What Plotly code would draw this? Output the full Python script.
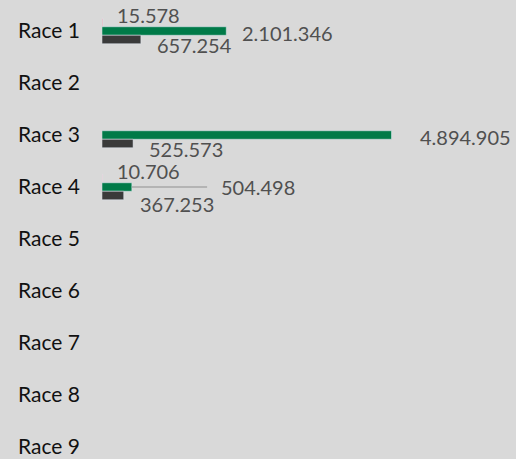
import plotly.graph_objects as go

categories = ["Race 1", "Race 2", "Race 3", "Race 4", "Race 5", "Race 6", "Race 7", "Race 8", "Race 9"]
series_a = [15578, None, None, 10706, None, None, None, None, None]
series_b = [2101346, None, 4894905, 504498, None, None, None, None, None]
series_c = [657254, None, 525573, 367253, None, None, None, None, None]

def fmt(v):
    return f"{v:,}".replace(",", ".")

fig = go.Figure()
fig.add_trace(go.Bar(y=categories, x=series_a, orientation="h", marker_color="#e8a0a8", name="A"))
fig.add_trace(go.Bar(y=categories, x=series_b, orientation="h", marker_color="#007a48", name="B"))
fig.add_trace(go.Bar(y=categories, x=series_c, orientation="h", marker_color="#3a3a3a", name="C"))

lab_font = dict(family="Lato", size=20, color="#505050")
ann = []
for i, c in enumerate(categories):
    a, b, cc = series_a[i], series_b[i], series_c[i]
    if a is not None:
        ann.append(dict(x=a, y=c, text=fmt(a), showarrow=False, xanchor="left", yanchor="middle",
                        xshift=12, yshift=16, font=lab_font))
    if b is not None:
        if c == "Race 4":
            ann.append(dict(x=b, y=c, text=fmt(b), xanchor="left", yanchor="middle",
                            font=lab_font, showarrow=True, arrowhead=0,
                            arrowwidth=1.5, arrowcolor="#a8a8a8", ax=1.98e6, ay=c, axref="x", ayref="y",
                            standoff=0, startstandoff=12))
        else:
            gap = 14 if c == "Race 1" else 26
            ann.append(dict(x=b, y=c, text=fmt(b), showarrow=False, xanchor="left", yanchor="middle",
                            xshift=gap, yshift=-2, font=lab_font))
    if cc is not None:
        ys = -17 if c == "Race 4" else -14
        ann.append(dict(x=cc, y=c, text=fmt(cc), showarrow=False, xanchor="left", yanchor="middle",
                        xshift=14, yshift=ys, font=lab_font))

fig.update_layout(
    width=516, height=459,
    barmode="group", bargap=0.51, bargroupgap=0,
    paper_bgcolor="#d9d9d9", plot_bgcolor="#d9d9d9",
    margin=dict(l=102, r=0, t=5, b=0),
    showlegend=False,
    annotations=ann,
    xaxis=dict(range=[0, 7.0e6], visible=False, showgrid=False, zeroline=False),
    yaxis=dict(range=[8.23, -0.5], showgrid=False, zeroline=False, showline=False,
               ticks="", ticklabelstandoff=21,
               tickfont=dict(family="Lato", size=21, color="#111111")),
)
fig.write_html("out.html", config={"displayModeBar": False},
               post_script="document.body.style.margin='0';")
